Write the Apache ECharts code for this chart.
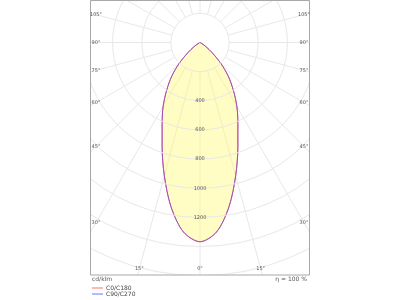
<!DOCTYPE html>
<html>
<head>
<meta charset="utf-8">
<script src="https://cdn.jsdelivr.net/npm/echarts@6/dist/echarts.min.js"></script>
<style>html,body{margin:0;padding:0;background:#fff}#c{width:400px;height:300px}</style>
</head>
<body>
<div id="c"></div>
<script>
// gamma angles (deg) from nadir
const gammaDeg = [0, 5, 10, 15, 20, 25, 30, 35, 40, 45, 50, 55, 60, 65, 70, 75, 80, 85, 90];
// luminous intensity, cd/klm
const c0c180  = [1367, 1305, 1145, 946, 760, 615, 506, 398, 302, 201, 108, 50, 15, 3, 0, 0, 0, 0, 0];
const c90c270 = [1367, 1305, 1145, 946, 760, 615, 506, 398, 302, 201, 108, 50, 15, 3, 0, 0, 0, 0, 0];
// ring values and labels
const ringLabels = [400, 600, 800, 1000, 1200];
const angleTickLabels = [0, 15, 30, 45, 60, 75, 90, 105];
const seriesNames = ['C0/C180', 'C90/C270'];

const CX = 200, CY = 42.5, PX200 = 29.15;
const RMAX = 1800;
const R = PX200 * RMAX / 200;
const frame = {x1: 90.5, y1: 0.5, x2: 309.5, y2: 275};

function curve(vals) {
  const d = [];
  for (let i = gammaDeg.length - 1; i >= 0; i--) d.push([vals[i], 360 - gammaDeg[i]]);
  for (let i = 1; i < gammaDeg.length; i++) d.push([vals[i], gammaDeg[i]]);
  return d;
}

const inset = {x1: 96, x2: 304, y2: 269};
const gfx = [];
const mk = (shape, style) => ({type: 'rect', zlevel: 1, z: 1, shape, style});
gfx.push(mk({x: 0, y: 0, width: frame.x1, height: 300}, {fill: '#fff'}));
gfx.push(mk({x: frame.x2, y: 0, width: 400 - frame.x2, height: 300}, {fill: '#fff'}));
gfx.push(mk({x: 0, y: frame.y2, width: 400, height: 300 - frame.y2}, {fill: '#fff'}));
gfx.push({type: 'rect', zlevel: 1, z: 2,
  shape: {x: frame.x1, y: frame.y1, width: frame.x2 - frame.x1, height: frame.y2 - frame.y1},
  style: {fill: 'none', stroke: '#a8a8a8', lineWidth: 1}});
const txt = (x, y, t, align, fs) => ({type: 'text', zlevel: 1, z: 3, x, y,
  style: {text: t, fill: '#555', font: fs + 'px "DejaVu Sans", sans-serif', textAlign: align, textVerticalAlign: 'middle'}});
angleTickLabels.forEach(g => {
  const a = g * Math.PI / 180;
  const sx = Math.sin(a), cy = Math.cos(a);
  let t = Infinity;
  if (sx > 1e-9) t = Math.min(t, (CX - inset.x1) / sx);
  if (cy > 1e-9) t = Math.min(t, (inset.y2 - CY) / cy);
  const dx = t * sx, dy = t * cy;
  const label = g + '°';
  if (g === 0) { gfx.push(txt(CX, CY + dy, label, 'center', 5)); return; }
  gfx.push(txt(CX - dx, CY + dy, label, 'center', 5));
  gfx.push(txt(CX + dx, CY + dy, label, 'center', 5));
});
gfx.push(txt(92, 279, 'cd/klm', 'left', 6));
gfx.push(txt(307, 279, 'η = 100 %', 'right', 6));

const gridLine = {show: true, lineStyle: {color: '#e8e8e8', width: 1}};
const chart = echarts.init(document.getElementById('c'), null, {renderer: 'canvas'});
chart.setOption({
  backgroundColor: '#fff',
  animation: false,
  polar: [
    {center: [CX, CY], radius: [PX200, R]},
    {center: [CX, CY], radius: [0, R]}
  ],
  angleAxis: [
    {polarIndex: 0, type: 'value', min: 0, max: 360, interval: 15, startAngle: 270, clockwise: true,
     axisLine: {show: false}, axisTick: {show: false}, axisLabel: {show: false}, splitLine: gridLine},
    {polarIndex: 1, type: 'value', min: 0, max: 360, interval: 15, startAngle: 270, clockwise: true,
     axisLine: {show: false}, axisTick: {show: false}, axisLabel: {show: false}, splitLine: {show: false}}
  ],
  radiusAxis: [
    {polarIndex: 0, type: 'value', min: 200, max: RMAX, interval: 200, z: 5,
     axisLine: {show: false}, axisTick: {show: false}, splitLine: gridLine,
     axisLabel: {show: true, margin: 0, align: 'center', verticalAlign: 'middle', fontSize: 5, color: '#555',
       fontFamily: 'DejaVu Sans',
       formatter: v => ringLabels.indexOf(v) >= 0 ? String(v) : ''}},
    {polarIndex: 1, type: 'value', min: 0, max: RMAX, interval: 200,
     axisLine: {show: false}, axisTick: {show: false}, splitLine: {show: false}, axisLabel: {show: false}}
  ],
  legend: {
    zlevel: 1, z: 10, orient: 'vertical', left: 92, top: 285, itemGap: 0,
    icon: 'rect', itemWidth: 11, itemHeight: 1,
    textStyle: {fontSize: 6, lineHeight: 6, color: '#444', fontFamily: 'DejaVu Sans', padding: [0, 0, 0, -2]},
    padding: 0,
    data: [
      {name: seriesNames[0], icon: 'rect', itemStyle: {color: '#ff7070', borderWidth: 0}},
      {name: seriesNames[1], icon: 'rect', itemStyle: {color: '#7070ff', borderWidth: 0}}
    ]
  },
  series: [
    {name: seriesNames[0], type: 'line', coordinateSystem: 'polar', polarIndex: 1, data: curve(c0c180),
     showSymbol: false, smooth: 0.3, color: '#ff7070', z: 3,
     lineStyle: {color: '#ff4040', width: 1},
     areaStyle: {color: 'rgba(255,250,110,0.58)'}},
    {name: seriesNames[1], type: 'line', coordinateSystem: 'polar', polarIndex: 1, data: curve(c90c270),
     showSymbol: false, smooth: 0.3, color: '#7070ff', z: 4,
     lineStyle: {color: '#6a5cff', width: 1, opacity: 0.7}}
  ],
  graphic: gfx
});
</script>
</body>
</html>
